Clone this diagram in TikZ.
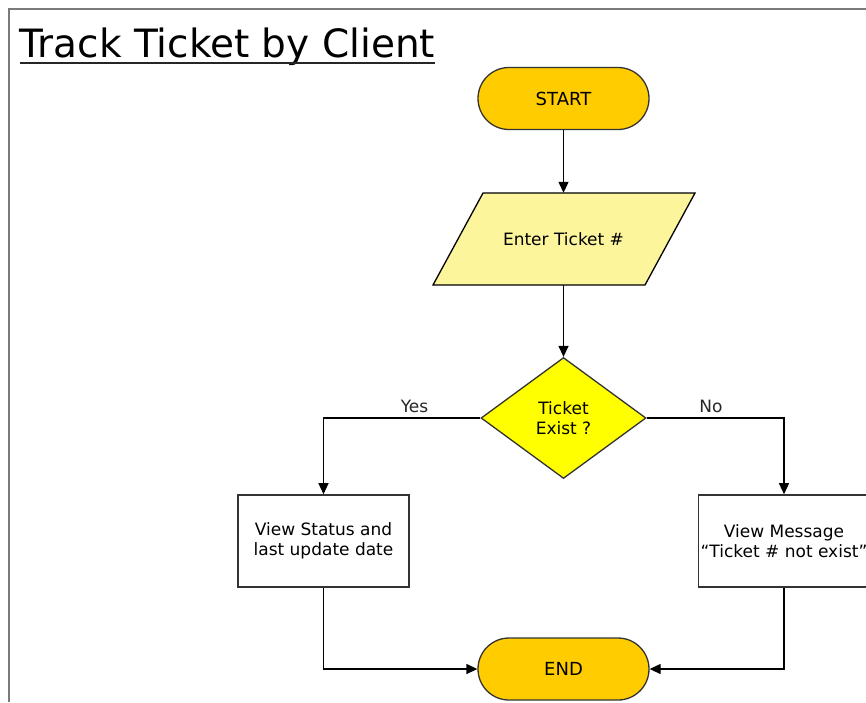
\documentclass[tikz,border=0pt]{standalone}
\usepackage{fontspec}
\setmainfont{DejaVu Sans}
\usetikzlibrary{shapes.geometric,arrows.meta,calc}
\definecolor{startfill}{HTML}{FFCC00}
\definecolor{inputfill}{HTML}{FCF59B}
\definecolor{decfill}{HTML}{FFFF00}
\definecolor{framegray}{HTML}{7A7A7A}
\definecolor{bordergray}{HTML}{333333}
\begin{document}
\begin{tikzpicture}[x=1pt,y=-1pt,
  nodefont/.style={font=\fontsize{17}{20.5}\selectfont},
  terminal/.style={draw=bordergray, line width=1.3pt, fill=startfill,
    rounded corners=31pt, minimum width=171pt, minimum height=62pt,
    inner sep=0pt, font=\fontsize{18}{20}\selectfont},
  inputtext/.style={nodefont, inner sep=0pt, minimum width=162pt, minimum height=92pt},
  inputshape/.style={draw=black, line width=1.3pt, fill=inputfill},
  decision/.style={diamond, draw=bordergray, line width=1.3pt, fill=decfill,
    minimum width=165pt, minimum height=121pt, inner sep=0pt, align=center, nodefont},
  procbox/.style={draw=bordergray, line width=1.6pt, fill=white,
    minimum width=171pt, minimum height=92pt, inner sep=0pt, align=center, nodefont},
  arr/.style={draw=black, line width=1.3pt, -{Triangle[length=11pt,width=10pt]}},
  lbl/.style={nodefont, text=black!85, inner sep=0pt, anchor=base},
  titlefont/.style={font=\fontsize{39}{46}\selectfont}
]
\useasboundingbox (0,0) rectangle (866,702);
\clip (0,0) rectangle (866,702);

% frame
\draw[framegray, line width=2pt] (8.5,702) -- (8.5,8.5) -- (866,8.5);

% title
\node[titlefont, anchor=base west, inner sep=0pt] (title) at (19.5,57) {Track Ticket by Client};
\draw[black!85, line width=2pt] ($(title.base west)+(0,6)$) -- ($(title.base east)+(0,6)$);

% nodes
\node[terminal] (start) at (563.5,98.5) {START};

\coordinate (inc) at (563.5,239);
\draw[inputshape] ($(inc)+(-80.5,-46)$) -- ($(inc)+(131.5,-46)$) -- ($(inc)+(81.5,46)$) -- ($(inc)+(-130.5,46)$) -- cycle;
\node[inputtext] (input) at (inc) {Enter Ticket \#};

\node[decision] (dec) at (563.5,418) {Ticket\\Exist ?};

\node[procbox] (view) at (323.5,541) {View Status and\\last update date};
\node[procbox] (msg) at (784,541) {View Message\\“Ticket \# not exist”};

\node[terminal] (finish) at (563.5,669) {END};

% connectors
\draw[arr] (start) -- (input);
\draw[arr] (input) -- (dec);
\draw[arr] (dec.west) -| (view.north);
\draw[arr] (dec.east) -| (msg.north);
\draw[arr] (view.south) |- (finish.west);
\draw[arr] (msg.south) |- (finish.east);

% labels
\node[lbl] (yes) at (414.5,412) {Yes};
\node[lbl] (no) at (711,412) {No};
\end{tikzpicture}
\end{document}
